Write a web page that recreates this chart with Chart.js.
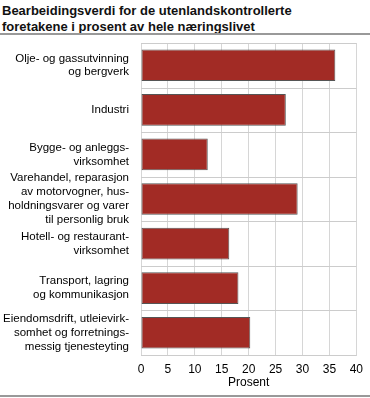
<!DOCTYPE html>
<html>
<head>
<meta charset="utf-8">
<script src="https://cdn.jsdelivr.net/npm/chart.js@4"></script>
<style>
	body { margin: 0; background: #fff; font-family: "Liberation Sans", Arial, sans-serif; }
	#wrap { position: relative; width: 370px; height: 398px; overflow: hidden; }
	#title { position: absolute; left: 2px; top: 3px; font-size: 13px; font-weight: bold; line-height: 16px; color: #111; }
	.rule { position: absolute; left: 0; width: 370px; height: 2px; background: #999; }
	#chartBox { position: absolute; left: 0; top: 36px; width: 370px; height: 356px; }
</style>
</head>
<body>
<div id="wrap">
	<div id="title">Bearbeidingsverdi for de utenlandskontrollerte<br>foretakene i prosent av hele næringslivet</div>
	<div class="rule" style="top:33px"></div>
	<div id="chartBox"><canvas id="barChart"></canvas></div>
	<div class="rule" style="top:395px"></div>
</div>
<script>
// categories (multi-line labels as shown in the figure)
var categories = [
	["Olje- og gassutvinning", "og bergverk"],
	"Industri",
	["Bygge- og anleggs-", "virksomhet"],
	["Varehandel, reparasjon", "av motorvogner, hus-", "holdningsvarer og varer", "til personlig bruk"],
	["Hotell- og restaurant-", "virksomhet"],
	["Transport, lagring", "og kommunikasjon"],
	["Eiendomsdrift, utleievirk-", "somhet og forretnings-", "messig tjenesteyting"]
];
// percent values
var prosent = [36.1, 26.9, 12.4, 29.1, 16.4, 18.1, 20.3];
var xTicks = [0, 5, 10, 15, 20, 25, 30, 35, 40];

var gridColor = "#d6d6d6";

//draws the horizontal lines between the categories (they fall in the gaps between bars)
var categoryLines = {
	id: "categoryLines",
	afterDatasetsDraw: function (chart) {
		var yScale = chart.scales.y;
		var xScale = chart.scales.x;
		var area = chart.chartArea;
		var c = chart.ctx;
		var step = (area.bottom - area.top) / categories.length;
		c.save();
		c.strokeStyle = "#cccccc";
		c.lineWidth = 1;
		for (var i = 0; i <= categories.length; i++) {
			var y = Math.round(yScale.getPixelForTick(0) - step / 2 + i * step) + 0.5;
			c.beginPath();
			c.moveTo(xScale.getPixelForValue(0), y);
			c.lineTo(xScale.getPixelForValue(40), y);
			c.stroke();
		}
		c.restore();
	}
};

var ctx = document.getElementById("barChart");
var myBarChart = new Chart(ctx, {
	type: 'bar',
	data: {
		labels: categories,
		datasets: [{
			label: "Prosent",
			data: prosent,
			backgroundColor: "#a22b25",
			borderColor: "#555555",
			borderWidth: 1,
			borderSkipped: false,
			barPercentage: 0.71,
			categoryPercentage: 1.0
		}]
	},
	plugins: [categoryLines],
	options: {
		indexAxis: 'y',
		responsive: true,
		maintainAspectRatio: false,
		animation: false,
		layout: { padding: { top: 7, right: 10, bottom: 2, left: 0 } },
		plugins: {
			legend: { display: false },
			tooltip: { enabled: false }
		},
		scales: {
			x: {
				min: 0,
				max: 40,
				afterBuildTicks: function (axis) {
					axis.ticks = xTicks.map(function (v) { return { value: v }; });
				},
				afterFit: function (scale) {
					scale.height = 35;
				},
				grid: { color: gridColor, drawTicks: false },
				border: { color: gridColor },
				ticks: { color: "#000", padding: 7, font: { family: "Liberation Sans", size: 12 } },
				title: { display: true, text: "Prosent", color: "#000", padding: { top: 0, bottom: 0 }, font: { family: "Liberation Sans", size: 12 } }
			},
			y: {
				offset: true,
				afterFit: function (scale) {
					scale.paddingTop = 0;
					scale.paddingBottom = 0;
					scale.width = 141;
				},
				grid: { display: false },
				border: { color: gridColor },
				ticks: { color: "#000", padding: 4, autoSkip: false, font: { family: "Liberation Sans", size: 11.5, lineHeight: 1.2 } }
			}
		}
	}
});
</script>
</body>
</html>
